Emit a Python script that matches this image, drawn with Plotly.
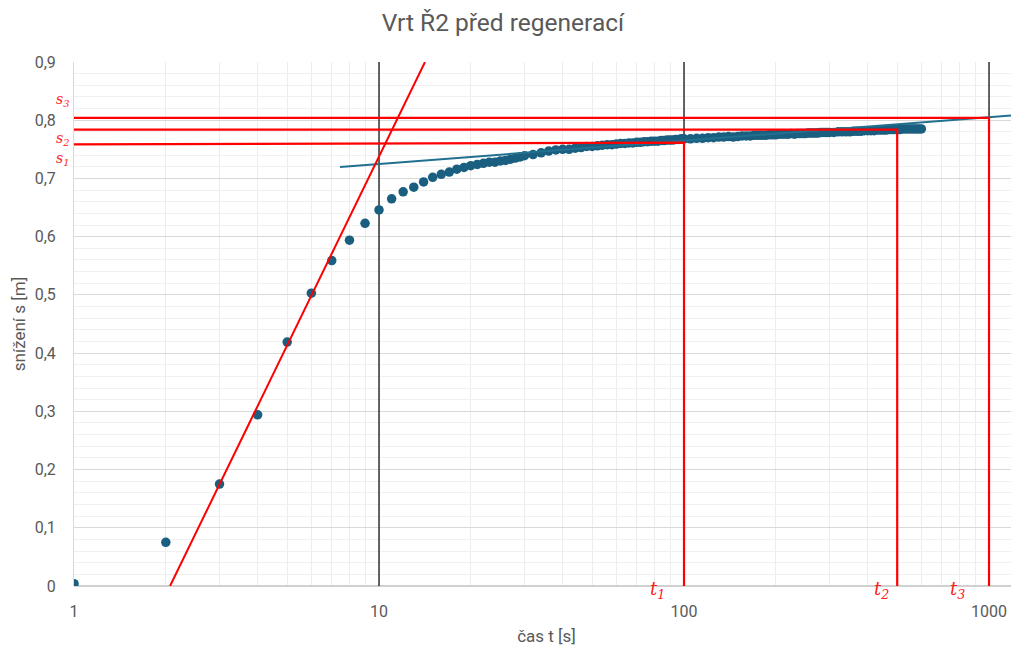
import math
import plotly.graph_objects as go

# ---- data ----
time_s = [1, 2, 3, 4, 5, 6, 7, 8, 9, 10, 11, 12, 13, 14, 15, 16, 17, 18, 19, 20,
          21, 22, 23, 24, 25, 26, 27, 28, 29, 30,
          32, 34, 36, 38, 40, 42, 44, 46, 48, 50, 52, 54, 56, 58, 60, 62, 64, 66, 68, 70,
          72, 74, 76, 78, 80, 82, 84, 86, 88, 90, 92, 94, 96, 98, 100,
          105, 110, 115, 120, 125, 130, 135, 140, 145, 150, 155, 160, 165, 170, 175, 180,
          185, 190, 195, 200, 205, 210, 215, 220, 225, 230, 235, 240, 245, 250, 255, 260,
          265, 270, 275, 280, 285, 290, 295, 300,
          310, 320, 330, 340, 350, 360, 370, 380, 390, 400, 410, 420, 430, 440, 450, 460,
          470, 480, 490, 500, 510, 520, 530, 540, 550, 560, 570, 580, 590, 600]
drawdown_m = [0.004, 0.075, 0.175, 0.294, 0.419, 0.503, 0.559, 0.594, 0.623, 0.646,
              0.665, 0.677, 0.685, 0.694, 0.702, 0.707, 0.711, 0.716, 0.719, 0.722,
              0.724, 0.726, 0.728, 0.728, 0.730, 0.731, 0.733, 0.735, 0.737, 0.739,
              0.741, 0.744, 0.747, 0.749, 0.750, 0.750, 0.752, 0.753, 0.755, 0.755,
              0.756, 0.757, 0.758, 0.758, 0.759, 0.760, 0.760, 0.761, 0.761, 0.762,
              0.762, 0.763, 0.763, 0.764, 0.764, 0.764, 0.765, 0.765, 0.766, 0.766,
              0.766, 0.767, 0.767, 0.768, 0.768,
              0.768, 0.769, 0.769, 0.770, 0.770, 0.771, 0.771, 0.772, 0.771, 0.772,
              0.773, 0.773, 0.773, 0.774, 0.774, 0.774, 0.774, 0.775, 0.775, 0.775,
              0.776, 0.776, 0.776, 0.776, 0.777, 0.776, 0.777, 0.777, 0.777, 0.777,
              0.778, 0.778, 0.778, 0.778, 0.778, 0.779, 0.779, 0.779, 0.779, 0.779,
              0.779, 0.780, 0.780, 0.780, 0.780, 0.781, 0.781, 0.781, 0.782, 0.782,
              0.782, 0.782, 0.783, 0.783, 0.783, 0.783, 0.784, 0.784, 0.784, 0.784,
              0.784, 0.785, 0.785, 0.785, 0.785, 0.785, 0.785, 0.785, 0.785, 0.785]

# steep (early) straight line
steep_t = [2.065, 14.15]
steep_s = [0.0, 0.9]
# late straight line (semi-log trend)
trend_t = [7.45, 1254]
trend_s = [0.7197, 0.809]

# construction lines
t_marks = [100, 500, 1000]
s_marks_start = [0.7585, 0.784, 0.804]
s_marks_end = [0.7615, 0.784, 0.804]
t_labels = ["t<sub>1</sub>", "t<sub>2</sub>", "t<sub>3</sub>"]
s_labels = ["s<sub>1</sub>", "s<sub>2</sub>", "s<sub>3</sub>"]

decade_lines = [10, 100, 1000]
x_ticks = [1, 10, 100, 1000]
y_ticks = [0, 0.1, 0.2, 0.3, 0.4, 0.5, 0.6, 0.7, 0.8, 0.9]

x_max = 1254

# page body has an 8px margin, so the figure is sized/offset accordingly
FIG_W, FIG_H = 1011, 645

# ---- figure ----
fig = go.Figure()

for xv in decade_lines:
    fig.add_trace(go.Scatter(x=[xv, xv], y=[0, 0.9], mode="lines",
                             line=dict(color="#000000", width=1.2),
                             hoverinfo="skip", showlegend=False))

fig.add_trace(go.Scatter(x=time_s, y=drawdown_m, mode="markers",
                         marker=dict(color="#1a5f80", size=9.5),
                         showlegend=False))

fig.add_trace(go.Scatter(x=trend_t, y=trend_s, mode="lines",
                         line=dict(color="#22708f", width=2),
                         showlegend=False))

fig.add_trace(go.Scatter(x=steep_t, y=steep_s, mode="lines",
                         line=dict(color="#ff0000", width=2),
                         showlegend=False))

for tv, s0, s1 in zip(t_marks, s_marks_start, s_marks_end):
    fig.add_trace(go.Scatter(x=[1, tv, tv], y=[s0, s1, 0], mode="lines",
                             line=dict(color="#ff0000", width=2.2),
                             showlegend=False))

t_shift = [-27, -16, -32]
for tv, lab, xs in zip(t_marks, t_labels, t_shift):
    fig.add_annotation(x=math.log10(tv), xref="x", y=0, yref="paper",
                       text="<i>" + lab + "</i>", showarrow=False,
                       xshift=xs, yshift=-18,
                       font=dict(family="DejaVu Serif", size=18, color="#ff2020"))
s_shift = [-15, -9, 18]
for sv, lab, ys in zip(s_marks_start, s_labels, s_shift):
    fig.add_annotation(x=0, xref="paper", y=sv, yref="y",
                       text="<i>" + lab + "</i>", showarrow=False,
                       xshift=-20, yshift=ys,
                       font=dict(family="DejaVu Serif", size=14, color="#ff2020"))

fig.update_layout(
    width=FIG_W, height=FIG_H,
    margin=dict(l=66, r=0, t=54, b=67, autoexpand=False),
    paper_bgcolor="white", plot_bgcolor="white",
    separators=", ",
    title=dict(text="Vrt Ř2 před regenerací", x=495 / FIG_W, xref="container", xanchor="center",
               y=1 - 14 / FIG_H, yref="container", yanchor="middle",
               font=dict(family="Roboto", size=24.5, color="#595959")),
    font=dict(family="Roboto", size=16, color="#595959"),
    showlegend=False,
)

fig.update_xaxes(
    type="log", range=[0, math.log10(x_max)], automargin=False,
    tickvals=x_ticks, ticktext=[str(v) for v in x_ticks],
    showgrid=False, showline=False, zeroline=False,
    ticks="", ticklabelstandoff=14,
    tickfont=dict(size=16, color="#595959"),
    minor=dict(showgrid=True, gridcolor="#ededed", gridwidth=1, dtick="D1", ticks=""),
    title=dict(text="čas t [s]", font=dict(size=17, color="#595959"), standoff=10),
)
fig.update_yaxes(
    range=[0, 0.9], tickvals=y_ticks, automargin=False,
    showgrid=True, gridcolor="#d9d9d9", gridwidth=1,
    minor=dict(showgrid=True, gridcolor="#f0f0f0", dtick=0.02, ticks=""),
    showline=True, linecolor="#d9d9d9", linewidth=1, mirror=False,
    zeroline=True, zerolinecolor="#d0d0d0", zerolinewidth=1.5,
    ticks="", ticklabelstandoff=14,
    tickfont=dict(size=16, color="#595959"),
    title=dict(text="snížení s [m]", font=dict(size=17, color="#595959"), standoff=4),
)

fig.write_html("out.html")
